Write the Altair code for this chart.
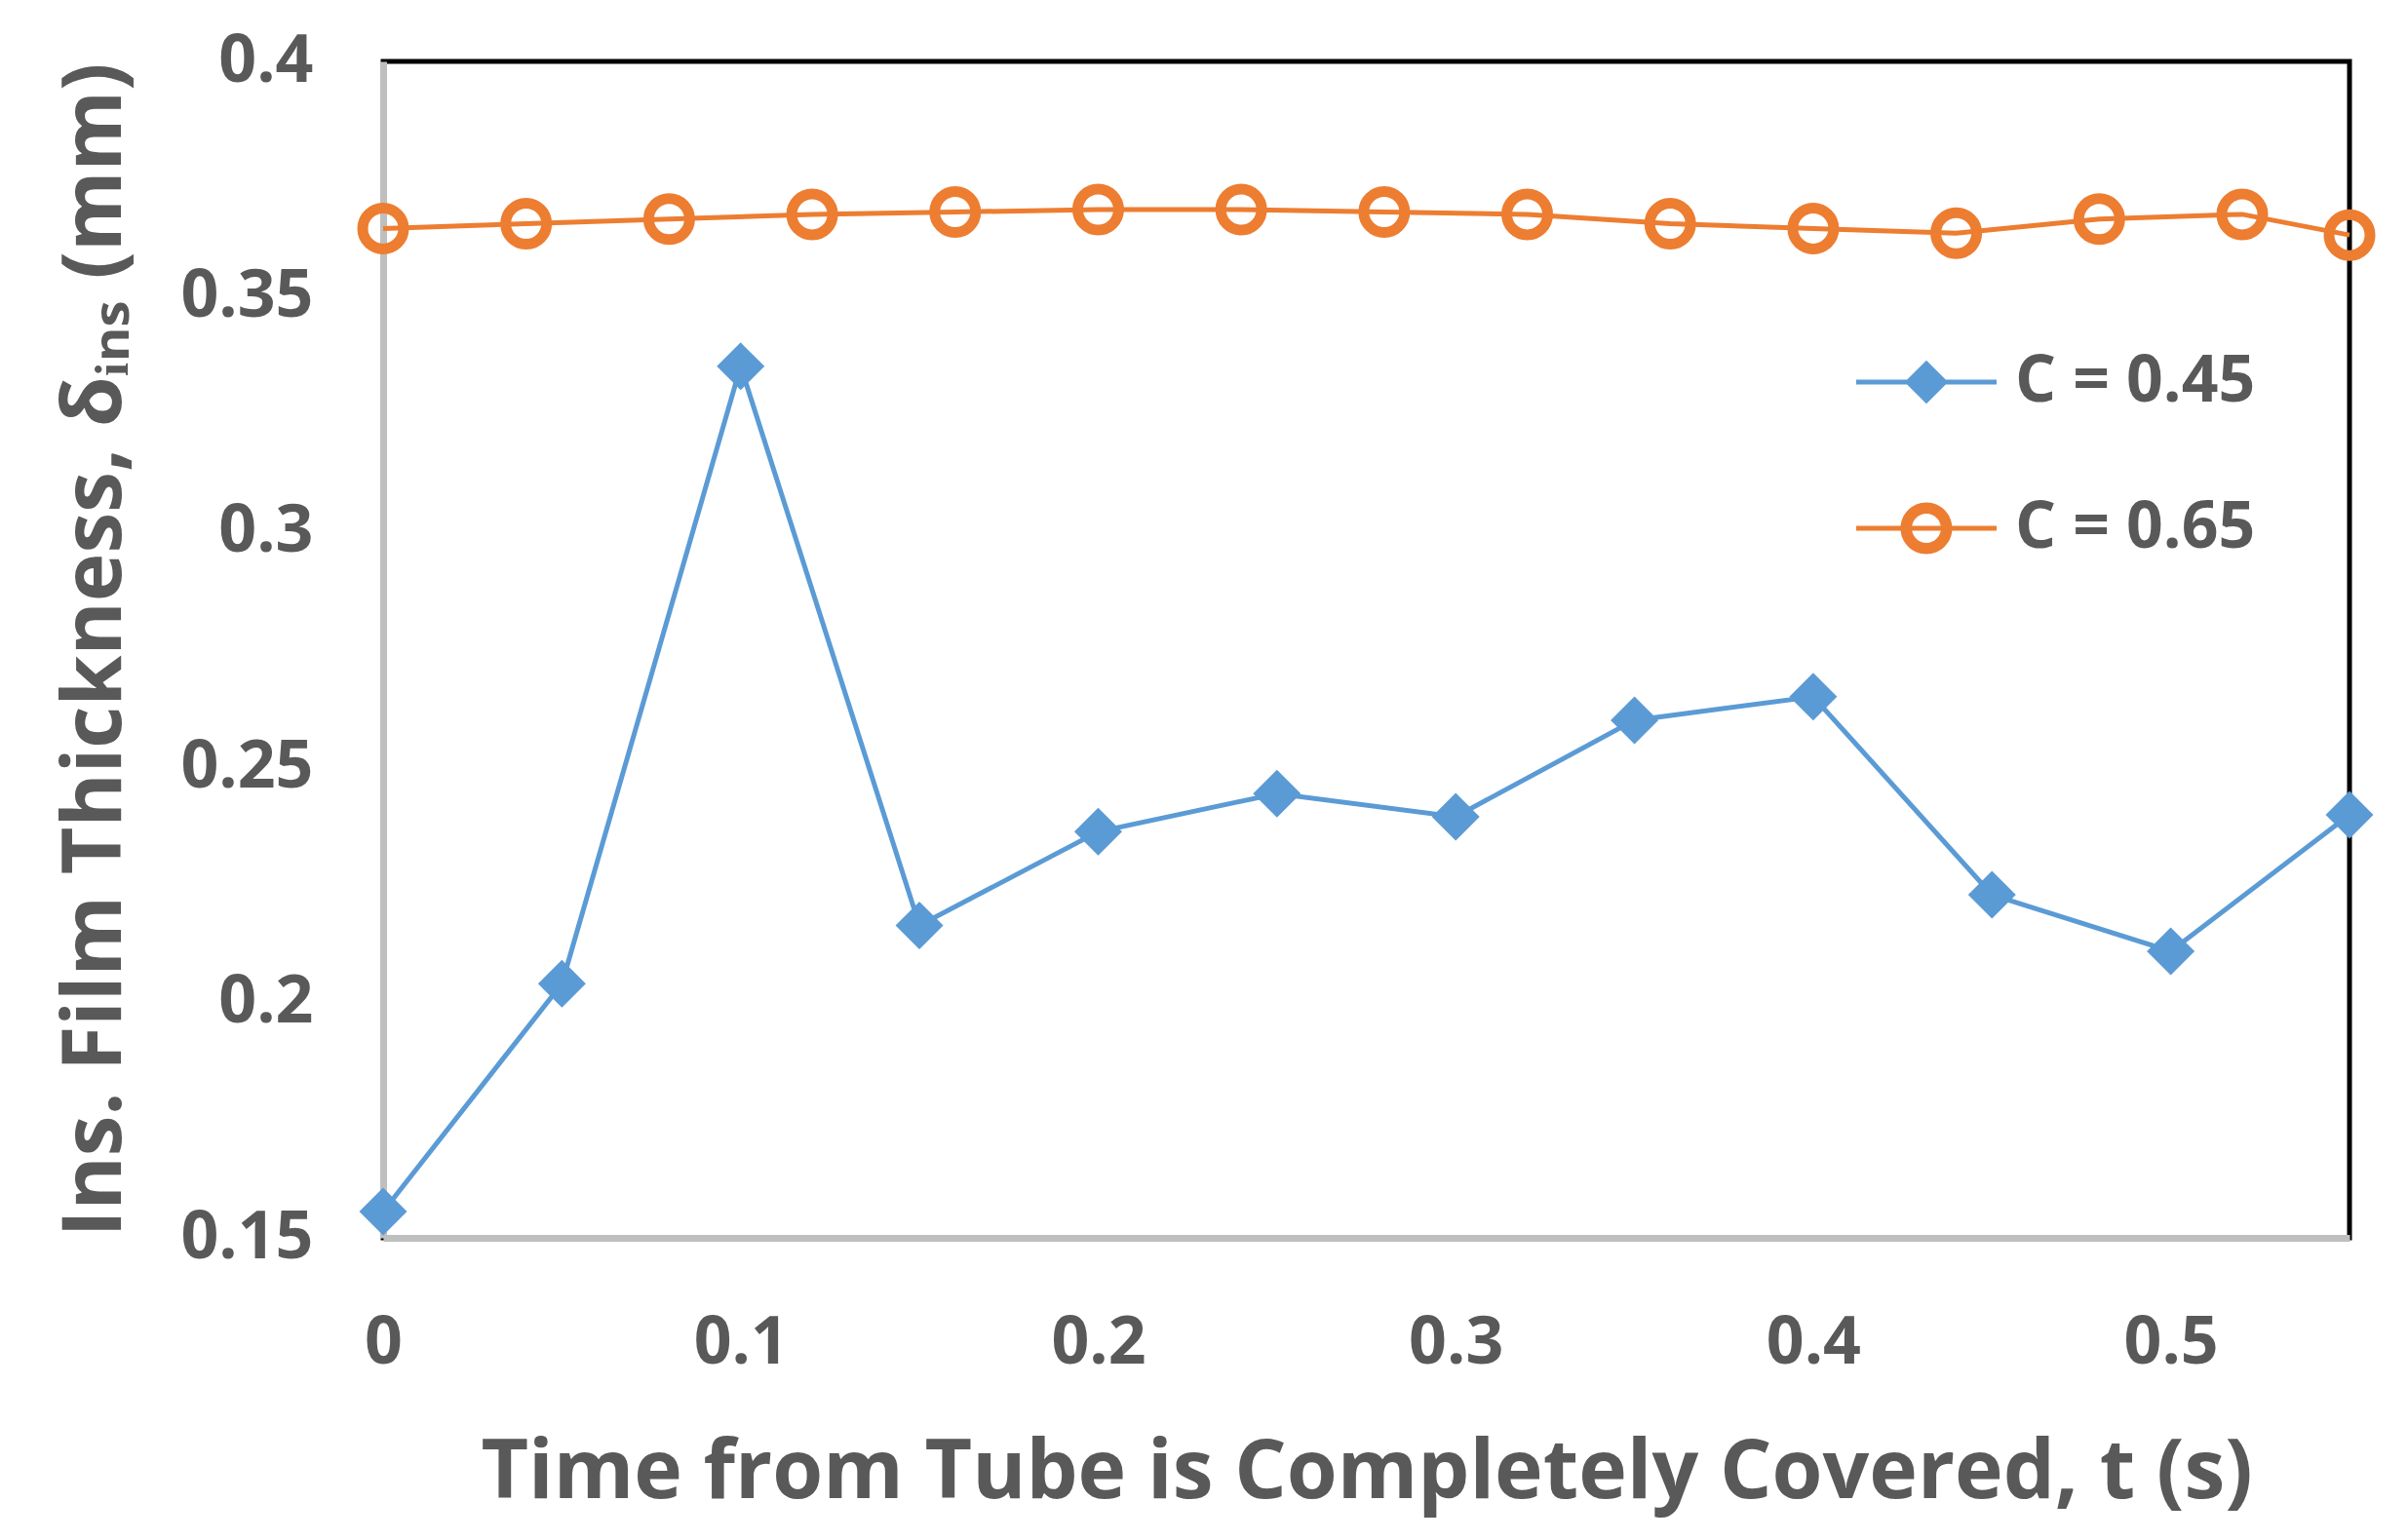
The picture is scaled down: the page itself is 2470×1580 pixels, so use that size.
import altair as alt
import pandas as pd

series_names = ["C = 0.45", "C = 0.65"]
series_colors = ["#5B9BD5", "#ED7D31"]

blue_t = [0.00, 0.05, 0.10, 0.15, 0.20, 0.25, 0.30, 0.35, 0.40, 0.45, 0.50, 0.55]
blue_v = [0.1556, 0.2040, 0.3352, 0.2164, 0.2363, 0.2444, 0.2395, 0.2600, 0.2650, 0.2229, 0.2109, 0.2399]

orange_t = [0.00, 0.04, 0.08, 0.12, 0.16, 0.20, 0.24, 0.28, 0.32, 0.36, 0.40, 0.44, 0.48, 0.52, 0.55]
orange_v = [0.3645, 0.3655, 0.3665, 0.3675, 0.3680, 0.3685, 0.3685, 0.3680, 0.3675, 0.3655, 0.3645, 0.3635, 0.3665, 0.3675, 0.3631]

x_ticks = [0, 0.1, 0.2, 0.3, 0.4, 0.5]
y_ticks = [0.15, 0.2, 0.25, 0.3, 0.35, 0.4]

x_title = "Time from Tube is Completely Covered, t (s)"
y_title = "Ins. Film Thickness, δᵢₙₛ (mm)"

df = pd.concat([
    pd.DataFrame({"t": blue_t, "v": blue_v, "series": series_names[0]}),
    pd.DataFrame({"t": orange_t, "v": orange_v, "series": series_names[1]}),
], ignore_index=True)

FONT = "Open Sans"
TXT = "#595959"

x_enc = alt.X("t:Q", scale=alt.Scale(domain=[0, 0.55], nice=False, zero=False),
              axis=alt.Axis(values=x_ticks, format="~g", title=x_title, labelFlush=False))
y_enc = alt.Y("v:Q", scale=alt.Scale(domain=[0.15, 0.4], nice=False, zero=False),
              axis=alt.Axis(values=y_ticks, format="~g", title=y_title, labelFlush=False))

base = alt.Chart(df)

blue = base.transform_filter(alt.datum.series == series_names[0])
orange = base.transform_filter(alt.datum.series == series_names[1])

blue_line = blue.mark_line(color=series_colors[0], strokeWidth=5).encode(x=x_enc, y=y_enc)
blue_pts = blue.mark_point(shape="diamond", filled=True, size=2400, color=series_colors[0],
                           opacity=1).encode(x=x_enc, y=y_enc)
orange_line = orange.mark_line(color=series_colors[1], strokeWidth=5).encode(x=x_enc, y=y_enc)
orange_pts = orange.mark_point(shape="circle", filled=False, size=1764, strokeWidth=11,
                               color=series_colors[1], opacity=1).encode(x=x_enc, y=y_enc)

# legend symbols: line with marker, in unit coords (1 = 72px)
path_blue = ("M-1,-0.035L1,-0.035L1,0.035L-1,0.035Z "
             "M-0.31,0L0,-0.31L0.31,0L0,0.31Z")
path_orange = ("M-1,-0.035L1,-0.035L1,0.035L-1,0.035Z "
               "M0.368,0A0.368,0.368 0 1 1 -0.368,0A0.368,0.368 0 1 1 0.368,0Z "
               "M0.208,0A0.208,0.208 0 1 0 -0.208,0A0.208,0.208 0 1 0 0.208,0Z")

leg = alt.Legend(title=None, orient="none", legendX=1511, legendY=257,
                 symbolSize=20736, symbolStrokeWidth=0, symbolOpacity=1,
                 labelFont=FONT, labelFontSize=66, labelFontWeight="bold",
                 labelColor=TXT, labelOffset=19, rowPadding=45, padding=0,
                 labelLimit=0)

legend_layer = base.transform_filter("false").mark_point(filled=True, opacity=1).encode(
    x=x_enc, y=y_enc,
    color=alt.Color("series:N", scale=alt.Scale(domain=series_names, range=series_colors), legend=leg),
    shape=alt.Shape("series:N", scale=alt.Scale(domain=series_names, range=[path_blue, path_orange]), legend=leg),
)

chart = alt.layer(blue_line, blue_pts, orange_line, orange_pts, legend_layer).properties(
    width=2017, height=1207,
    autosize=alt.AutoSizeParams(type="none"),
    padding={"left": 385, "top": 55, "right": 40, "bottom": 300},
    background="white",
).configure_view(
    stroke="black", strokeWidth=5
).configure_axis(
    grid=False, ticks=False, labelFlush=False,
    domainColor="#BFBFBF", domainWidth=7,
    labelFont=FONT, labelFontSize=68, labelFontWeight="bold", labelColor=TXT,
    titleFont=FONT, titleFontSize=84, titleFontWeight="bold", titleColor=TXT,
).configure_axisX(
    labelPadding=74, titlePadding=58,
).configure_axisY(
    labelPadding=72, titlePadding=52,
)

chart.save("out.html", embed_options={"renderer": "svg", "actions": False})
